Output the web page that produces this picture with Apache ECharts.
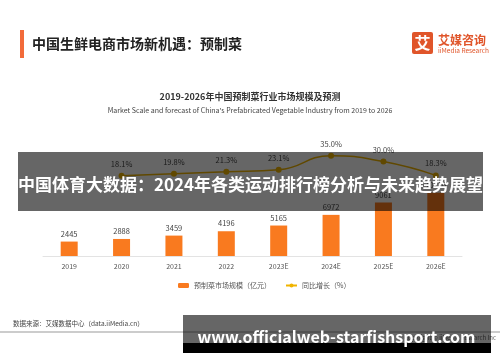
<!DOCTYPE html>
<html><head><meta charset="utf-8">
<script src="https://cdn.jsdelivr.net/npm/echarts@6/dist/echarts.min.js"></script>
<style>html,body{margin:0;padding:0;background:#fff}#c{width:500px;height:362px}</style>
</head><body><div id="c"></div>
<script>
const categories = ['2019','2020','2021','2022','2023E','2024E','2025E','2026E'];
const marketScale = [2445, 2888, 3459, 4196, 5165, 6972, 9061, 10720];
const growthRate = [null, 18.1, 19.8, 21.3, 23.1, 35.0, 30.0, 18.3];
const seriesNames = ['预制菜市场规模（亿元）', '同比增长（%）'];

const F = '"Noto Sans CJK SC", "Noto Sans", sans-serif';
const chart = echarts.init(document.getElementById('c'), null, {renderer:'canvas'});
chart.setOption({
  backgroundColor: '#fff',
  animation: false,
  textStyle: {fontFamily: F},
  title: [
    {text: '2019-2026年中国预制菜行业市场规模及预测', left: 'center', top: 87,
     textStyle: {fontSize: 9, fontWeight: 'bold', color: '#333', fontFamily: F}},
    {text: 'Market Scale and forecast of China\'s Prefabricated Vegetable Industry from 2019 to 2026', left: 'center', top: 101.5,
     textStyle: {fontSize: 7, fontWeight: 'normal', color: '#444', fontFamily: F}}
  ],
  legend: {
    left: 173, top: 277, itemWidth: 11, itemHeight: 5, itemGap: 14,
    textStyle: {fontSize: 7, color: '#555', fontFamily: F},
    data: seriesNames
  },
  grid: {left: 43, right: 38, top: 138, bottom: 106},
  xAxis: {
    type: 'category', data: categories,
    axisLine: {lineStyle: {color: '#e3e3e3'}},
    axisTick: {show: false},
    axisLabel: {fontSize: 7, color: '#555', margin: 7, fontFamily: F}
  },
  yAxis: [
    {type: 'value', min: 0, max: 20000, show: false, splitLine: {show: false}},
    {type: 'value', min: -50, max: 50, show: false, splitLine: {show: false}}
  ],
  series: [
    {name: seriesNames[0], type: 'bar', data: marketScale, barWidth: 17,
     itemStyle: {color: '#f97a1f'},
     label: {show: true, position: 'top', distance: 4, fontSize: 7.5, color: '#444', fontFamily: F}},
    {name: seriesNames[1], type: 'line', yAxisIndex: 1, data: growthRate, smooth: true,
     symbol: 'circle', symbolSize: 6, connectNulls: false,
     lineStyle: {color: '#f0b400', width: 1.5},
     itemStyle: {color: '#f0b400'},
     label: {show: true, position: 'top', distance: 5, fontSize: 7.5, color: '#444', fontFamily: F,
             formatter: p => p.value.toFixed(1) + '%'}}
  ],
  graphic: [
    {type: 'rect', shape: {x: 20, y: 30, width: 4, height: 28}, style: {fill: '#f26b3a'}},
    {type: 'text', x: 32, y: 44, style: {text: '中国生鲜电商市场新机遇：预制菜', font: 'bold 14px ' + F, fill: '#222', textVerticalAlign: 'middle'}},
    {type: 'rect', shape: {x: 412, y: 32, width: 21, height: 22, r: 2}, style: {fill: '#e0552a'}},
    {type: 'text', x: 422.5, y: 43, style: {text: '艾', font: 'bold 16px ' + F, fill: '#fff', textAlign: 'center', textVerticalAlign: 'middle'}},
    {type: 'text', x: 438, y: 40, style: {text: '艾媒咨询', font: 'bold 12px ' + F, fill: '#e0552a', textVerticalAlign: 'middle'}},
    {type: 'text', x: 438, y: 51, style: {text: 'iiMedia Research', font: '6.5px ' + F, fill: '#e0552a', textVerticalAlign: 'middle'}},
    {type: 'text', x: 13, y: 324, style: {text: '数据来源：艾媒数据中心（data.iiMedia.cn）', font: '6.5px ' + F, fill: '#444', textVerticalAlign: 'middle'}},
    {type: 'text', x: 496, y: 338, style: {text: 'Copyright © iiMedia Research Inc', font: '6px ' + F, fill: '#666', textAlign: 'right', textVerticalAlign: 'middle'}},
    {type: 'rect', shape: {x: 0, y: 331.5, width: 500, height: 1}, style: {fill: '#9a9a9a'}},
    {type: 'rect', shape: {x: 18, y: 152, width: 465, height: 59}, style: {fill: 'rgba(0,0,0,0.6)'}, z: 100},
    {type: 'text', x: 250.5, y: 185, z: 101, style: {text: '中国体育大数据：2024年各类运动排行榜分析与未来趋势展望', font: 'bold 17px ' + F, fill: '#fff', textAlign: 'center', textVerticalAlign: 'middle'}},
    {type: 'rect', shape: {x: 183, y: 315, width: 308, height: 28}, style: {fill: 'rgba(0,0,0,0.6)'}, z: 100},
    {type: 'rect', shape: {x: 183, y: 343, width: 308, height: 10}, style: {fill: '#000'}, z: 100},
    {type: 'text', x: 336.5, y: 337, z: 101, style: {text: 'www.officialweb-starfishsport.com', font: 'bold 16px ' + F, fill: '#fff', textAlign: 'center', textVerticalAlign: 'middle'}}
  ]
});
</script></body></html>
